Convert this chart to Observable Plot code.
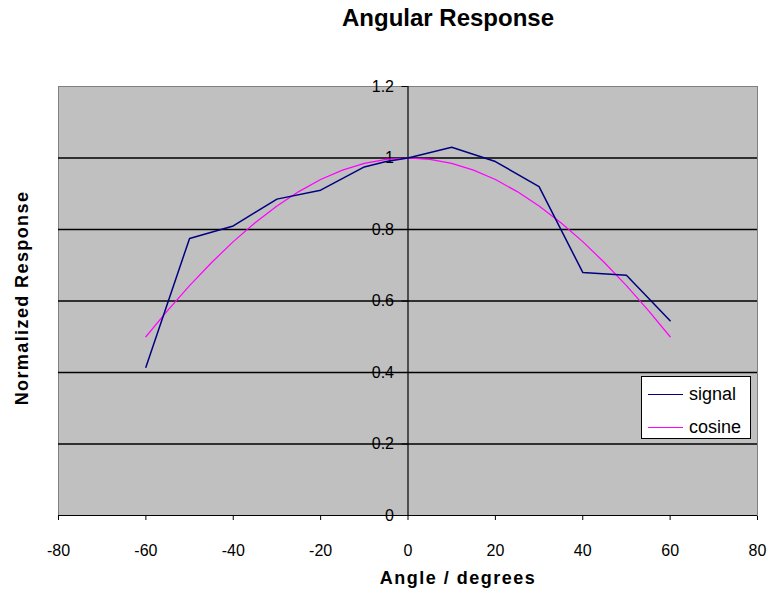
<!DOCTYPE html>
<html>
<head>
<meta charset="utf-8">
<script src="https://cdn.jsdelivr.net/npm/d3@7"></script>
<script src="https://cdn.jsdelivr.net/npm/@observablehq/plot@0.6"></script>
<style>
  body { margin: 0; background: #fff; }
  #wrap { position: relative; width: 768px; height: 594px; font-family: "Liberation Sans", Arial, sans-serif; }
  #legend { position: absolute; left: 641px; top: 376px; width: 110px; height: 63px; background: #fff; border: 1.5px solid #000; font-size: 18px; box-sizing: border-box; }
  #legend .row { position: absolute; left: 6px; height: 20px; display: flex; align-items: center; }
  #legend .sw { width: 35px; height: 0; margin-right: 6px; }
</style>
</head>
<body>
<div id="wrap"></div>
<script>
const signalAngle = [-60, -50, -40, -30, -20, -10, -5, 0, 10, 20, 30, 40, 50, 60];
const signalValue = [0.415, 0.775, 0.81, 0.885, 0.91, 0.975, 0.99, 1.0, 1.03, 0.99, 0.92, 0.68, 0.672, 0.545];
const cosineAngle = [-60, -55, -50, -45, -40, -35, -30, -25, -20, -15, -10, -5, 0, 5, 10, 15, 20, 25, 30, 35, 40, 45, 50, 55, 60];
const cosineValue = [0.5, 0.574, 0.643, 0.707, 0.766, 0.819, 0.866, 0.906, 0.94, 0.966, 0.985, 0.996, 1.0, 0.996, 0.985, 0.966, 0.94, 0.906, 0.866, 0.819, 0.766, 0.707, 0.643, 0.574, 0.5];
const xTicks = [-80, -60, -40, -20, 0, 20, 40, 60, 80];
const yTicks = [0, 0.2, 0.4, 0.6, 0.8, 1, 1.2];
const yTickLabels = ["0", "0.2", "0.4", "0.6", "0.8", "1", "1.2"];
const gridValues = [0.2, 0.4, 0.6, 0.8, 1.0];
const seriesNames = ["signal", "cosine"];
const seriesColors = ["#000080", "#ff00ff"];

const signal = signalAngle.map((a, i) => ({angle: a, value: signalValue[i]}));
const cosine = cosineAngle.map((a, i) => ({angle: a, value: cosineValue[i]}));
const yTickData = yTicks.map((v, i) => ({v, label: yTickLabels[i]}));

const font = "Liberation Sans, Arial, sans-serif";

const chart = Plot.plot({
  width: 768,
  height: 594,
  marginLeft: 58,
  marginRight: 11,
  marginTop: 86,
  marginBottom: 79,
  style: {fontFamily: font, fontSize: "16px", background: "#fff", color: "#000"},
  x: {domain: [-80, 80], ticks: xTicks, tickSize: 5, tickPadding: 24, tickFormat: d => String(d), label: null},
  y: {domain: [0, 1.2], axis: null},
  marks: [
    Plot.frame({fill: "#c0c0c0", stroke: "#808080"}),
    Plot.ruleY(gridValues, {stroke: "#000", strokeWidth: 1.4}),
    Plot.ruleX([0], {stroke: "#000", strokeWidth: 1.2}),
    Plot.ruleY(yTickData, {y: "v", x1: 0, x2: 0, insetLeft: -6, stroke: "#000"}),
    Plot.text(yTickData, {x: () => 0, y: "v", text: "label", textAnchor: "end", dx: -14, fontSize: 16}),
    Plot.ruleY([0], {stroke: "#000", strokeWidth: 1.2}),
    Plot.line(cosine, {x: "angle", y: "value", stroke: seriesColors[1], strokeWidth: 1.2}),
    Plot.line(signal, {x: "angle", y: "value", stroke: seriesColors[0], strokeWidth: 1.5}),
    Plot.text(["Angular Response"], {frameAnchor: "top", lineAnchor: "middle", dy: -68, dx: 40, fontSize: 24, fontWeight: "bold"}),
    Plot.text(["Angle / degrees"], {frameAnchor: "bottom", lineAnchor: "middle", textAnchor: "middle", dy: 63, dx: 50, fontSize: 18, fontWeight: "bold"}),
    Plot.text(["Normalized Response"], {frameAnchor: "left", lineAnchor: "middle", textAnchor: "middle", dx: -36, dy: -3, rotate: -90, fontSize: 18, fontWeight: "bold"})
  ]
});
const wrap = document.getElementById("wrap");
wrap.appendChild(chart);

d3.select(chart).selectAll("text").each(function() {
  const t = this.textContent;
  if (t === "Angle / degrees") d3.select(this).style("letter-spacing", "1.5px");
  if (t === "Normalized Response") d3.select(this).style("letter-spacing", "1.4px");
});

const legend = document.createElement("div");
legend.id = "legend";
seriesNames.forEach((name, i) => {
  const row = document.createElement("div");
  row.className = "row";
  row.style.top = (i === 0 ? 7 : 40) + "px";
  const sw = document.createElement("div");
  sw.className = "sw";
  sw.style.borderTop = "1.5px solid " + seriesColors[i];
  const lab = document.createElement("span");
  lab.textContent = name;
  row.appendChild(sw);
  row.appendChild(lab);
  legend.appendChild(row);
});
wrap.appendChild(legend);
</script>
</body>
</html>
